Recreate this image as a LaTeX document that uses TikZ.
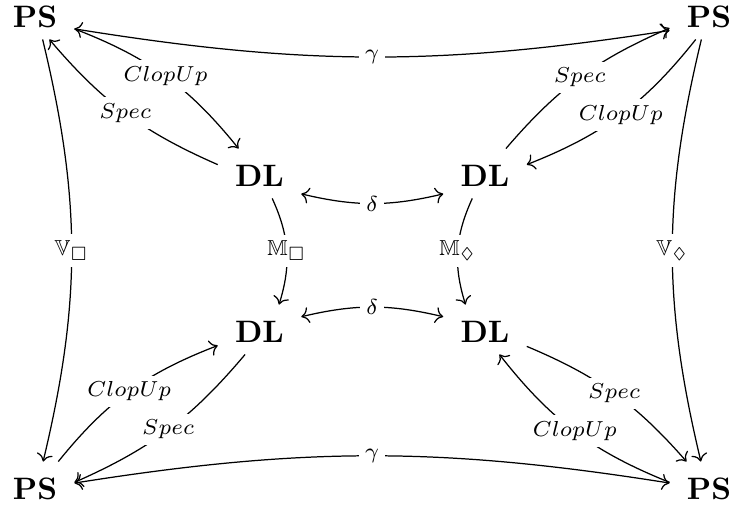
\documentclass[tikz,border=0pt]{standalone}
\usepackage{amssymb}
\usetikzlibrary{cd,arrows.meta}
\tikzset{
  obj/.style={rectangle, anchor=base, inner xsep=5.6pt, inner ysep=3.7pt,
    text height=8.7pt, text depth=0pt, outer sep=0pt, font=\bfseries},
  arr/.style={draw, line width=0.4pt, -{cm to}},
  both/.style={draw, line width=0.4pt, {cm to}-{cm to}},
  lbl/.style={fill=white, inner sep=2pt, font=\scriptsize, pos=0.5, anchor=center},
}
\begin{document}
\begin{tikzpicture}[x=0.3226pt, y=0.3226pt]
\useasboundingbox (0,0) rectangle (732,510);
% objects
\node[obj] (psTL) at (35,482) {PS};
\node[obj] (psTR) at (709,482) {PS};
\node[obj] (psBL) at (35,10) {PS};
\node[obj] (psBR) at (709,10) {PS};
\node[obj] (dlTL) at (259.5,323) {DL};
\node[obj] (dlTR) at (485,323) {DL};
\node[obj] (dlBL) at (259.5,167) {DL};
\node[obj] (dlBR) at (485,167) {DL};
% outer square
\draw[both] (psTL.-20) to[bend right=9] node[lbl]{$\gamma$} (psTR.202);
\draw[both] (psBL.5) to[bend left=9] node[lbl]{$\gamma$} (psBR.175);
\draw[arr] (psTL.-73) to[bend left=13.5] node[lbl]{$\mathbb{V}_\Box$} (psBL.72);
\draw[arr] (psTR.-107) to[bend right=13.5] node[lbl]{$\mathbb{V}_\Diamond$} (psBR.108);
% diagonals
\draw[arr] (psTL.-20) to[bend left=15] node[lbl]{$ClopUp$} (dlTL.130);
\draw[arr] (dlTL.168) to[bend left=13] node[lbl]{$Spec$} (psTL.-60);
\draw[arr] (dlTR.50) to[bend left=13] node[lbl]{$Spec$} (psTR.199);
\draw[arr] (psTR.242) to[bend left=15] node[lbl]{$ClopUp$} (dlTR.12);
\draw[arr] (psBL.47) to[bend left=15] node[lbl]{$ClopUp$} (dlBL.201);
\draw[arr] (dlBL.240) to[bend left=13] node[lbl]{$Spec$} (psBL.6);
\draw[arr] (dlBR.-22) to[bend left=13] node[lbl]{$Spec$} (psBR.132);
\draw[arr] (psBR.174) to[bend left=15] node[lbl]{$ClopUp$} (dlBR.-60);
% inner square
\draw[both] (dlTL.-26) to[bend right=13.4] node[lbl]{$\delta$} (dlTR.206);
\draw[both] (dlBL.17) to[bend left=13.4] node[lbl]{$\delta$} (dlBR.163);
\draw[arr] (dlTL.-63) to[bend left=21] node[lbl]{$\mathbb{M}_\Box$} (dlBL.52);
\draw[arr] (dlTR.-117) to[bend right=21] node[lbl]{$\mathbb{M}_\Diamond$} (dlBR.128);
\end{tikzpicture}
\end{document}
